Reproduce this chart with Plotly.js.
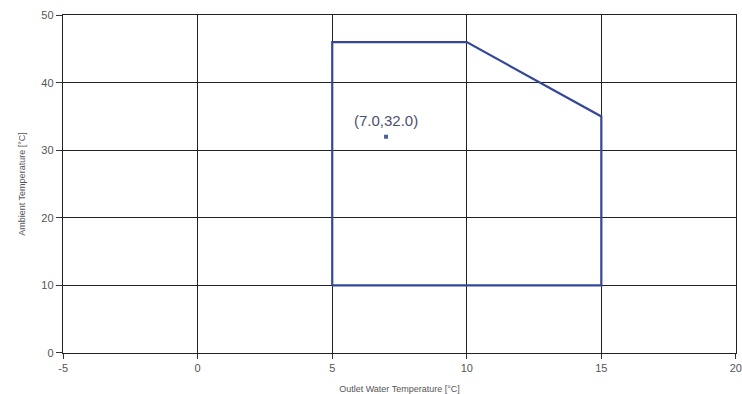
<!DOCTYPE html>
<html>
<head>
<meta charset="utf-8">
<script src="https://cdn.plot.ly/plotly-3.0.1.min.js"></script>
<style>html,body{margin:0;padding:0;background:#fff;}#chart{width:742px;height:394px;}</style>
</head>
<body>
<div id="chart"></div>
<script>
// Operating envelope polygon (outlet water temp, ambient temp)
const envelopeX = [5, 5, 10, 15, 15, 5];
const envelopeY = [10, 46, 46, 35, 10, 10];
// Design point
const pointX = [7.0];
const pointY = [32.0];
const pointLabel = ["(7.0,32.0)"];
const xTicks = [-5, 0, 5, 10, 15, 20];
const xTickText = ["-5", "0", "5", "10", "15", "20"];
const yTicks = [0, 10, 20, 30, 40, 50];
const yTickText = ["0", "10", "20", "30", "40", "50"];

const traces = [
  {x: envelopeX, y: envelopeY, mode: 'lines', type: 'scatter',
   line: {color: '#34489a', width: 2.2}, hoverinfo: 'skip', showlegend: false},
  {x: pointX, y: pointY, mode: 'markers', type: 'scatter',
   marker: {symbol: 'square', size: 4, color: '#4a5c9e'}, showlegend: false}
];

const layout = {
  width: 742, height: 394,
  margin: {l: 63, r: 6, t: 15, b: 41},
  paper_bgcolor: '#fff', plot_bgcolor: '#fff',
  font: {family: 'Liberation Sans, Arial, sans-serif', color: '#555'},
  showlegend: false,
  xaxis: {
    range: [-5.005, 20.005], tickvals: xTicks, ticktext: xTickText, ticks: 'outside', ticklen: 5, tickcolor: '#333',
    showgrid: true, gridcolor: '#222', gridwidth: 1, zeroline: false,
    showline: true, linecolor: '#222', linewidth: 1.2, mirror: true,
    tickfont: {size: 11, color: '#555'}, ticklabeloverflow: 'allow',
    title: {text: 'Outlet Water Temperature [°C]', font: {size: 9, color: '#555'}, standoff: 12}
  },
  yaxis: {
    range: [-0.02, 50.02], tickvals: yTicks, ticktext: yTickText, ticks: 'outside', ticklen: 6, tickcolor: '#333',
    showgrid: true, gridcolor: '#222', gridwidth: 1, zeroline: false,
    showline: true, linecolor: '#222', linewidth: 1.2, mirror: true,
    tickfont: {size: 11, color: '#555'}, ticklabeloverflow: 'allow',
    title: {text: 'Ambient Temperature [°C]', font: {size: 9, color: '#555'}, standoff: 14}
  },
  annotations: [{
    x: pointX[0], y: pointY[0], xref: 'x', yref: 'y', text: pointLabel[0],
    showarrow: false, yshift: 16, font: {size: 15, color: '#4a5070', family: 'Liberation Sans, Arial, sans-serif'}
  }]
};

Plotly.newPlot('chart', traces, layout, {displayModeBar: false, staticPlot: true});
</script>
</body>
</html>
